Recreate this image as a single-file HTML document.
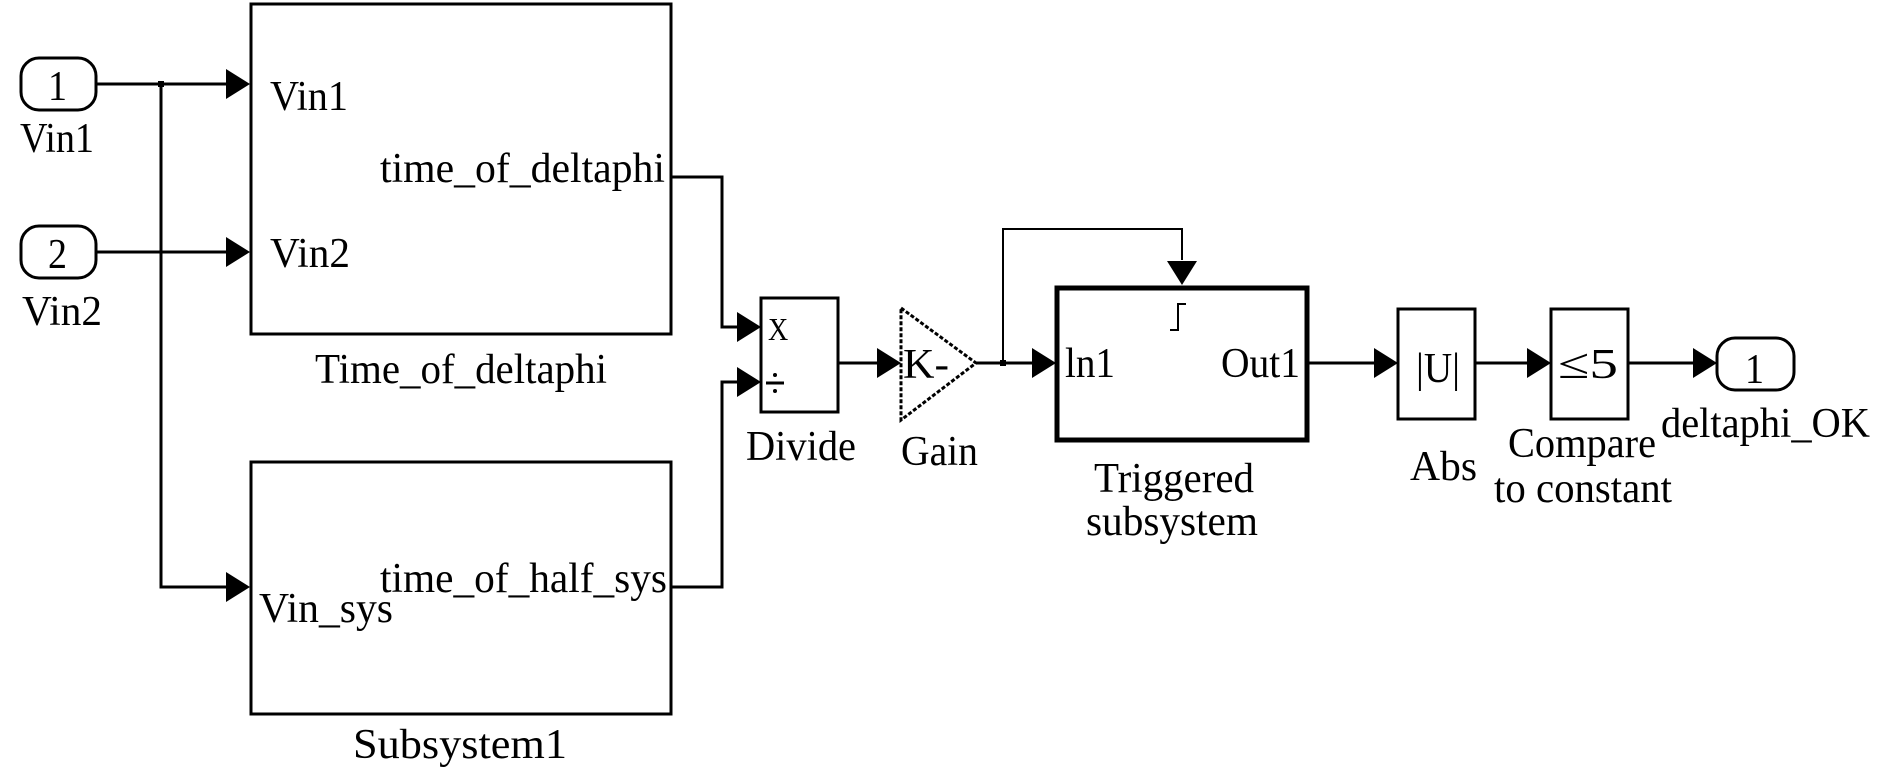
<!DOCTYPE html>
<html><head><meta charset="utf-8"><style>
html,body{margin:0;padding:0;background:#fff;}
svg{display:block;}
text{font-family:"Liberation Serif",serif;font-size:38px;fill:#000;}
</style></head><body>
<svg width="1890" height="770" viewBox="0 0 1890 770" xmlns="http://www.w3.org/2000/svg">
<defs>
<path id="ar" d="M-24,-15 L0,0 L-24,15 Z" fill="#000"/>
</defs>
<g fill="none" stroke="#000" stroke-width="3">
<!-- inports -->
<rect x="21" y="58" width="75" height="52" rx="18"/>
<rect x="21" y="226" width="75" height="52" rx="18"/>
<!-- connections -->
<polyline points="96,84 226,84"/>
<polyline points="96,252 226,252"/>
<polyline points="161,84 161,587 226,587"/>
<polyline points="671,177 722,177 722,327 738,327"/>
<polyline points="671,587 722,587 722,382 738,382"/>
<polyline points="838,363 878,363"/>
<polyline points="976,363 1032,363"/>
<polyline points="1003,363 1003,229 1182,229 1182,260" stroke-width="2"/>
<polyline points="1309,363 1374,363"/>
<polyline points="1475,363 1528,363"/>
<polyline points="1628,363 1694,363"/>
<!-- blocks -->
<rect x="251" y="4" width="420" height="330"/>
<rect x="251" y="462" width="420" height="252"/>
<rect x="761" y="298" width="77" height="114"/>
<rect x="1057" y="288" width="250" height="152" stroke-width="5"/>
<rect x="1398" y="309" width="77" height="110"/>
<rect x="1551" y="309" width="77" height="110"/>
<rect x="1717" y="338" width="77" height="52" rx="18"/>
<polygon points="901,308 976,363 901,420" stroke-dasharray="4,2"/>
<!-- trigger symbol -->
<polyline points="1170,330 1178,330 1178,304 1186,304" stroke-width="2"/>
<line x1="766" y1="383" x2="784" y2="383"/>
</g>
<rect x="1000" y="360" width="6" height="6" fill="#000"/>
<rect x="158" y="81" width="6" height="6" fill="#000"/>
<circle cx="775" cy="375" r="2" fill="#000"/>
<circle cx="775" cy="391" r="2" fill="#000"/>
<use href="#ar" x="250" y="84"/>
<use href="#ar" x="250" y="252"/>
<use href="#ar" x="250" y="587"/>
<use href="#ar" x="761" y="327"/>
<use href="#ar" x="761" y="382"/>
<use href="#ar" x="901" y="363"/>
<use href="#ar" x="1056" y="363"/>
<use href="#ar" x="1398" y="363"/>
<use href="#ar" x="1551" y="363"/>
<use href="#ar" x="1717" y="363"/>
<use href="#ar" transform="translate(1182,285) rotate(90)"/>

<g transform="translate(0,0)">
<g transform="translate(20,152) scale(1,1.12)"><text textLength="74" lengthAdjust="spacingAndGlyphs">Vin1</text></g>
<g transform="translate(22,325) scale(1,1.12)"><text textLength="80" lengthAdjust="spacingAndGlyphs">Vin2</text></g>
<g transform="translate(48,100) scale(1,1.12)"><text>1</text></g>
<g transform="translate(48,268) scale(1,1.12)"><text>2</text></g>
<g transform="translate(270,110) scale(1,1.12)"><text textLength="78" lengthAdjust="spacingAndGlyphs">Vin1</text></g>
<g transform="translate(270,267) scale(1,1.12)"><text textLength="80" lengthAdjust="spacingAndGlyphs">Vin2</text></g>
<g transform="translate(380,182) scale(1,1.12)"><text textLength="285" lengthAdjust="spacingAndGlyphs">time_of_deltaphi</text></g>
<g transform="translate(315,383) scale(1,1.12)"><text textLength="292" lengthAdjust="spacingAndGlyphs">Time_of_deltaphi</text></g>
<g transform="translate(259,622) scale(1,1.12)"><text textLength="134" lengthAdjust="spacingAndGlyphs">Vin_sys</text></g>
<g transform="translate(380,592) scale(1,1.12)"><text textLength="287" lengthAdjust="spacingAndGlyphs">time_of_half_sys</text></g>
<g transform="translate(353,758) scale(1,1.12)"><text textLength="214" lengthAdjust="spacingAndGlyphs">Subsystem1</text></g>
<g transform="translate(768,340) scale(1,1.12)"><text style="font-size:28px">X</text></g>
<g transform="translate(746,460) scale(1,1.12)"><text textLength="110" lengthAdjust="spacingAndGlyphs">Divide</text></g>
<g transform="translate(903,378) scale(1,1.12)"><text textLength="46" lengthAdjust="spacingAndGlyphs">K-</text></g>
<g transform="translate(901,465) scale(1,1.12)"><text textLength="77" lengthAdjust="spacingAndGlyphs">Gain</text></g>
<g transform="translate(1065,377) scale(1,1.12)"><text textLength="50" lengthAdjust="spacingAndGlyphs">ln1</text></g>
<g transform="translate(1221,377) scale(1,1.12)"><text textLength="79" lengthAdjust="spacingAndGlyphs">Out1</text></g>
<g transform="translate(1094,492) scale(1,1.12)"><text textLength="160" lengthAdjust="spacingAndGlyphs">Triggered</text></g>
<g transform="translate(1086,535) scale(1,1.12)"><text textLength="172" lengthAdjust="spacingAndGlyphs">subsystem</text></g>
<g transform="translate(1416,382) scale(1,1.12)"><text textLength="44" lengthAdjust="spacingAndGlyphs">|U|</text></g>
<g transform="translate(1410,480) scale(1,1.12)"><text textLength="67" lengthAdjust="spacingAndGlyphs">Abs</text></g>
<g transform="translate(1558,378) scale(1,1.12)"><text textLength="60" lengthAdjust="spacingAndGlyphs">≤5</text></g>
<g transform="translate(1508,457) scale(1,1.12)"><text textLength="148" lengthAdjust="spacingAndGlyphs">Compare</text></g>
<g transform="translate(1494,502) scale(1,1.12)"><text textLength="178" lengthAdjust="spacingAndGlyphs">to constant</text></g>
<g transform="translate(1745,383) scale(1,1.12)"><text>1</text></g>
<g transform="translate(1661,437) scale(1,1.12)"><text textLength="209" lengthAdjust="spacingAndGlyphs">deltaphi_OK</text></g>
</g>
</svg>
</body></html>
